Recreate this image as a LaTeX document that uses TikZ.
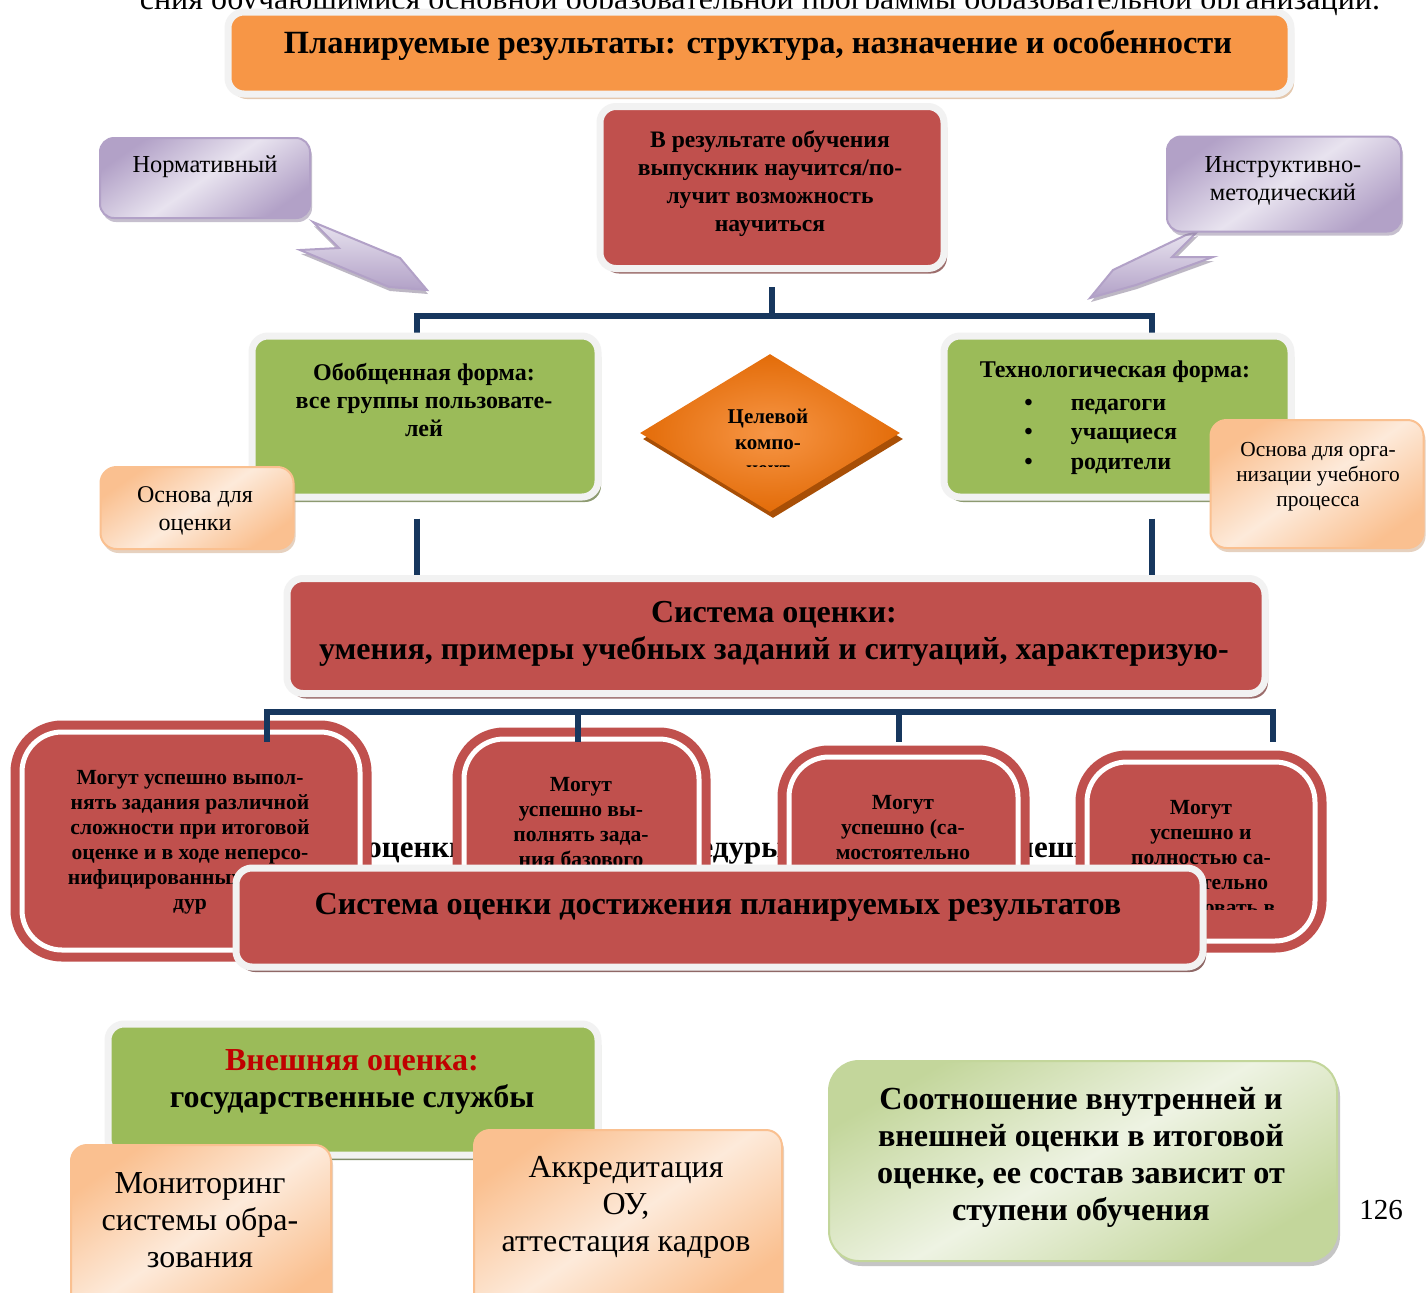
\documentclass[tikz,border=0pt]{standalone}
\usepackage{fontspec}
\setmainfont{Liberation Serif}
\usetikzlibrary{shapes.geometric,shadows,positioning}

\definecolor{orangeT}{HTML}{F79646}
\definecolor{redB}{HTML}{C0504D}
\definecolor{greenB}{HTML}{9BBB59}
\definecolor{navy}{HTML}{17375E}
\definecolor{frameG}{HTML}{F2F2F2}
\definecolor{lavD}{HTML}{B2A1C7}
\definecolor{lavL}{HTML}{E8E3EF}
\definecolor{peachD}{HTML}{FAC090}
\definecolor{peachL}{HTML}{FDEADA}
\definecolor{greenD}{HTML}{C3D69B}
\definecolor{greenL}{HTML}{EEF3E3}
\definecolor{diaC}{HTML}{F79646}
\definecolor{diaO}{HTML}{E36C09}
\definecolor{diaS}{HTML}{A84F06}
\definecolor{extRed}{HTML}{C00000}

\tikzset{
  wh/.style 2 args={minimum width=#1*0.5pt, minimum height=#2*0.5pt, inner sep=0pt},
  framed/.style={draw=frameG, line width=3.5pt, rounded corners=8pt,
    drop shadow={shadow xshift=1.5pt, shadow yshift=-2.5pt, fill=#1, opacity=.7}},
  lav/.style={rounded corners=7pt, draw=lavD, line width=1pt,
    top color=lavD, bottom color=lavD, middle color=lavL, shading angle=35,
    drop shadow={shadow xshift=1pt, shadow yshift=-2pt, fill=lavD!80!black, opacity=.5}},
  peach/.style={rounded corners=8pt, draw=peachD, line width=1pt,
    top color=peachD, bottom color=peachD, middle color=peachL, shading angle=35,
    drop shadow={shadow xshift=1pt, shadow yshift=-2pt, fill=peachD!80!black, opacity=.45}},
  ringbox/.style={fill=redB, draw=redB, line width=4.5pt, double=white,
    double distance=2.5pt, rounded corners=20pt},
  bus/.style={draw=navy, line width=3pt},
  txt/.style={align=center, inner sep=0pt},
  callout/.style={draw=lavD, line width=1pt, top color=lavL, bottom color=lavD,
    drop shadow={shadow xshift=0.5pt, shadow yshift=-2pt, fill=lavD!70!black, opacity=.5}}
}

\begin{document}
\begin{tikzpicture}[x=0.5pt,y=-0.5pt]
\useasboundingbox (0,0) rectangle (1426,1292);
\fill[white] (0,0) rectangle (1426,1292);

% line of the page above, cut by the title
\node[inner sep=0pt, anchor=base, font=\fontsize{16}{19}\selectfont] (prev) at (760,9)
  {сния обучающимися основной образовательной программы образовательной организации.};

% title
\node[framed=brown!60, fill=orangeT, wh={1063}{82}] (title) at (759.5,53) {};
\node[txt, font=\bfseries\fontsize{16.2}{19}\selectfont] (titletxt) at (758,45)
  {Планируемые результаты: структура, назначение и особенности};

% goal box
\node[framed=redB!60!black, fill=redB, wh={344}{162}] (goal) at (772,187.5) {};
\node[txt, font=\bfseries\fontsize{11.8}{14}\selectfont] (goaltxt) at (770,183.5)
  {В результате обучения\\выпускник научится/по-\\лучит возможность\\научиться};

% callouts
\path[callout] (313,222) -- (400,258) -- (427,290) -- (389,287) -- (300,250) -- (339,248) -- cycle;
\path[callout] (1197,232) -- (1172,257) -- (1213,257) -- (1136,285) -- (1090,298) -- (1113,270) -- (1186,235) -- cycle;
\node[lav, wh={210}{80}] (norm) at (205,178) {};
\node[txt, font=\fontsize{12.2}{14}\selectfont] (normtxt) at (205,167) {Нормативный};
\node[lav, wh={234}{95}] (instr) at (1284,184) {};
\node[txt, font=\fontsize{12.2}{14}\selectfont] (instrtxt) at (1283,181)
  {Инструктивно-\\методический};

% upper bus
\coordinate (busL) at (417,316);
\coordinate (busR) at (1152,316);
\draw[bus] (goal.south) ++(0,15) -- (goal.south |- busL);
\draw[bus] (busL) ++(0,26) -- (busL) -- (busR) -- ++(0,26);

% two forms
\node[framed=greenB!60!black, fill=greenB, wh={346}{161}] (gen) at (425,416.5) {};
\node[txt, font=\bfseries\fontsize{12}{14}\selectfont] (gentxt) at (424,400)
  {Обобщенная форма:\\все группы пользовате-\\лей};
\node[framed=greenB!60!black, fill=greenB, wh={347}{161}] (tech) at (1117.5,416.5) {};
\node[txt, font=\bfseries\fontsize{12}{14}\selectfont] (techtxt) at (1115,372)
  {Технологическая форма:};
\node[inner sep=0pt, anchor=north west, font=\bfseries\fontsize{12}{14.75}\selectfont]
  (techlist) at (1024,389)
  {\begin{tabular}{@{}l@{\hspace{19pt}}l@{}}\textbullet & педагоги\\ \textbullet & учащиеся\\ \textbullet & родители\end{tabular}};
\node[peach, wh={193}{82}] (basis1) at (197,508) {};
\node[txt, font=\fontsize{12}{14}\selectfont] (basis1txt) at (195,511) {Основа для\\оценки};
\node[peach, wh={213}{128}] (basis2) at (1317,484) {};
\node[txt, font=\fontsize{10.7}{12.5}\selectfont] (basis2txt) at (1318,477)
  {Основа для орга-\\низации учебного\\процесса};

% diamond
\node[diamond, wh={260}{158}, inner color=diaC, outer color=diaO,
  drop shadow={shadow xshift=1.5pt, shadow yshift=-3pt, fill=diaS, opacity=1}] (aim) at (770,433) {};
\begin{scope}
  \clip (690,395) rectangle (850,466);
  \node[txt, font=\bfseries\fontsize{10.5}{13}\selectfont] (aimtxt) at (768,442) {Целевой\\компо-\\нент};
\end{scope}

% to the system of assessment
\draw[bus] (busL |- gen.south) ++(0,18) -- (busL |- 0,578);
\draw[bus] (busR |- tech.south) ++(0,18) -- (busR |- 0,578);
\node[framed=redB!60!black, fill=redB, wh={978}{115}] (sys) at (776,636) {};
\node[txt, font=\bfseries\fontsize{16}{18.5}\selectfont] (systxt) at (774,633.5)
  {Система оценки:\\умения, примеры учебных заданий и ситуаций, характеризую-};

% text line behind the boxes
\node[inner sep=0pt, anchor=base west, font=\bfseries\fontsize{15.5}{18}\selectfont] (hid1) at (366,857) {оценки};
\node[inner sep=0pt, anchor=base east, font=\bfseries\fontsize{15.5}{18}\selectfont] (hid2) at (786,857) {процедуры};
\node[inner sep=0pt, anchor=base west, font=\bfseries\fontsize{15.5}{18}\selectfont] (hid3) at (999,857) {внешней};

% four groups
\node[ringbox, wh={338}{218}] (r1) at (191,841) {};
\node[txt, font=\bfseries\fontsize{10.8}{12.5}\selectfont] (r1txt) at (190,842.5)
  {Могут успешно выпол-\\нять задания различной\\сложности при итоговой\\оценке и в ходе неперсо-\\нифицированных проце-\\дур};
\node[ringbox, wh={235}{206}] (r2) at (581.5,842) {};
\node[txt, font=\bfseries\fontsize{10.8}{12.5}\selectfont] (r2txt) at (581,822)
  {Могут\\успешно вы-\\полнять зада-\\ния базового};
\node[ringbox, wh={229}{188}] (r3) at (903.5,851) {};
\node[txt, font=\bfseries\fontsize{10.8}{12.5}\selectfont] (r3txt) at (903,828)
  {Могут\\успешно (са-\\мостоятельно};
\node[ringbox, wh={228}{179}] (r4) at (1201,851.5) {};
\begin{scope}
  \clip (1090,770) rectangle (1312,909);
  \node[txt, font=\bfseries\fontsize{10.8}{12.5}\selectfont] (r4txt) at (1201,858)
    {Могут\\успешно и\\полностью са-\\мостоятельно\\использовать в};
\end{scope}

% lower bus
\coordinate (bus2L) at (267,712);
\coordinate (bus2R) at (1273,712);
\draw[bus] (bus2L) ++(0,30) -- (bus2L) -- (bus2R) -- ++(0,30);
\draw[bus] (578,712) -- ++(0,30);
\draw[bus] (899,712) -- ++(0,30);

% system of assessment of results
\node[framed=redB!50!black, fill=redB, wh={967}{99}] (sysres) at (719.5,917.5) {};
\node[txt, font=\bfseries\fontsize{16.1}{18}\selectfont] (sysrestxt) at (718,907)
  {Система оценки достижения планируемых результатов};

% external assessment
\node[framed=greenB!50!black, fill=greenB, wh={490}{131}] (ext) at (353,1089.5) {};
\node[txt, font=\bfseries\fontsize{16}{18.5}\selectfont] (exttxt) at (352,1081.5)
  {\textcolor{extRed}{Внешняя оценка:}\\государственные службы};
\node[peach, wh={260}{170}] (mon) at (201,1230) {};
\node[txt, font=\fontsize{16}{18.5}\selectfont] (montxt) at (200,1220)
  {Мониторинг\\системы обра-\\зования};
\node[peach, wh={308}{180}] (accr) at (628,1220) {};
\node[txt, font=\fontsize{16}{18.5}\selectfont] (accrtxt) at (626,1207)
  {Аккредитация\\ОУ,\\аттестация кадров};

% ratio
\node[rounded corners=15pt, draw=greenD, line width=1pt,
  top color=greenD, bottom color=greenD, middle color=greenL, shading angle=30,
  drop shadow={shadow xshift=1.5pt, shadow yshift=-2.5pt, fill=black!45, opacity=.5},
  wh={508}{200}] (ratio) at (1083,1161) {};
\node[txt, font=\bfseries\fontsize{16.1}{18.5}\selectfont] (ratiotxt) at (1081,1157.5)
  {Соотношение внутренней и\\внешней оценки в итоговой\\оценке, ее состав зависит от\\ступени обучения};
\node[txt, font=\fontsize{14.5}{17}\selectfont] (page) at (1381,1210) {126};
\end{tikzpicture}
\end{document}
